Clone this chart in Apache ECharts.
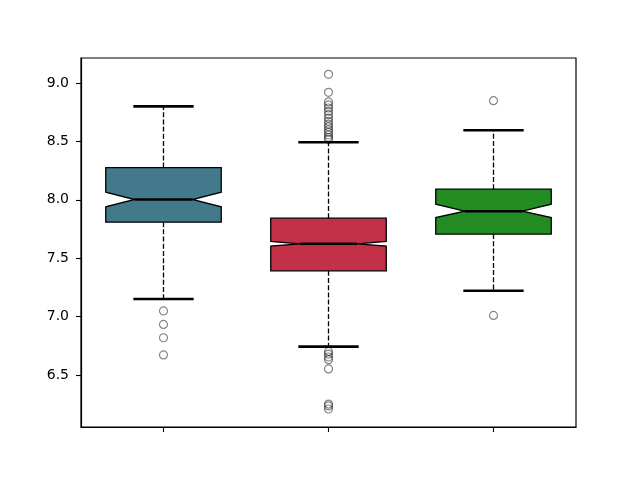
<!DOCTYPE html>
<html>
<head>
<meta charset="utf-8">
<script src="https://cdn.jsdelivr.net/npm/echarts@6/dist/echarts.min.js"></script>
<style>html,body{margin:0;padding:0;background:#fff}#c{width:640px;height:480px}</style>
</head>
<body>
<div id="c"></div>
<script>
// ---- data ----
const categories = ['1', '2', '3'];
const whiskerLow  = [7.151, 6.744, 7.222];
const q1          = [7.809, 7.393, 7.707];
const notchLow    = [7.940, 7.604, 7.849];
const median      = [8.003, 7.624, 7.903];
const notchHigh   = [8.066, 7.644, 7.963];
const q3          = [8.276, 7.843, 8.091];
const whiskerHigh = [8.800, 8.493, 8.596];
const outliers1 = [7.049, 6.934, 6.820, 6.673];
const outliers2 = [9.074, 8.920, 8.838, 8.812, 8.786, 8.758, 8.730, 8.700, 8.672, 8.648, 8.625, 8.600, 8.578, 8.555, 8.535, 8.518,
                   6.703, 6.680, 6.655, 6.632, 6.553, 6.252, 6.236, 6.210];
const outliers3 = [8.849, 7.011];
const boxColors = ['#427a8b', '#c33149', '#228b22'];
const yTicks = [6.5, 7.0, 7.5, 8.0, 8.5, 9.0];

const boxData = categories.map((c, i) => [i, whiskerLow[i], q1[i], notchLow[i], median[i], notchHigh[i], q3[i], whiskerHigh[i]]);
const outlierData = [];
[outliers1, outliers2, outliers3].forEach((arr, i) => arr.forEach(v => outlierData.push([i, v])));

const chart = echarts.init(document.getElementById('c'), null, {renderer: 'canvas'});

function renderBox(params, api) {
  const idx = api.value(0);
  const band = api.size([1, 0])[0];
  const hw = band * 0.35;   // half box width (width 0.7)
  const cw = hw * 0.5;      // half cap width
  const P = k => api.coord([idx, api.value(k)]);
  const pWl = P(1), pQ1 = P(2), pNl = P(3), pMed = P(4), pNh = P(5), pQ3 = P(6), pWh = P(7);
  const x = pMed[0];
  const fill = boxColors[idx];
  const dash = {stroke: '#000', lineWidth: 1.3, lineDash: [5, 2.2]};
  const cap = {stroke: '#000', lineWidth: 2.6, lineCap: 'butt'};
  return {
    type: 'group',
    children: [
      {type: 'line', shape: {x1: x, y1: pQ1[1], x2: x, y2: pWl[1]}, style: dash},
      {type: 'line', shape: {x1: x, y1: pQ3[1], x2: x, y2: pWh[1]}, style: dash},
      {type: 'line', shape: {x1: x - cw - 1.3, y1: pWl[1], x2: x + cw + 1.3, y2: pWl[1]}, style: cap},
      {type: 'line', shape: {x1: x - cw - 1.3, y1: pWh[1], x2: x + cw + 1.3, y2: pWh[1]}, style: cap},
      {type: 'polygon', shape: {points: [
        [x - hw, pQ1[1]], [x - hw, pNl[1]], [x - hw / 2, pMed[1]], [x - hw, pNh[1]], [x - hw, pQ3[1]],
        [x + hw, pQ3[1]], [x + hw, pNh[1]], [x + hw / 2, pMed[1]], [x + hw, pNl[1]], [x + hw, pQ1[1]]
      ]}, style: {fill: fill, stroke: '#000', lineWidth: 1.3, lineJoin: 'miter'}},
      {type: 'line', shape: {x1: x - hw / 2, y1: pMed[1], x2: x + hw / 2, y2: pMed[1]}, style: {stroke: '#000', lineWidth: 2.6}}
    ]
  };
}

chart.setOption({
  animation: false,
  backgroundColor: '#fff',
  grid: {left: 81, right: 64, top: 58, bottom: 53, show: true, borderColor: '#000', borderWidth: 1.2, backgroundColor: 'transparent'},
  xAxis: {
    type: 'category', data: categories, boundaryGap: true,
    axisLine: {show: true, lineStyle: {color: '#000', width: 1.2}},
    axisTick: {show: true, alignWithLabel: true, length: 5, lineStyle: {color: '#000', width: 1.1}},
    axisLabel: {show: false},
    splitLine: {show: false}
  },
  yAxis: {
    type: 'value', min: 6.056, max: 9.214,
    axisLine: {show: true, lineStyle: {color: '#000', width: 1.2}},
    axisTick: {show: true, length: 5, customValues: yTicks, lineStyle: {color: '#000', width: 1.1}},
    axisLabel: {show: true, customValues: yTicks, margin: 12, color: '#000', fontSize: 14,
      fontFamily: 'DejaVu Sans', formatter: v => v.toFixed(1)},
    splitLine: {show: false}
  },
  series: [
    {type: 'custom', renderItem: renderBox, data: boxData, encode: {x: 0, y: [1, 7]}, silent: true, z: 2},
    {type: 'scatter', data: outlierData, symbol: 'circle', symbolSize: 8, silent: true, z: 3,
      itemStyle: {color: 'rgba(0,0,0,0)', borderColor: 'rgba(0,0,0,0.6)', borderWidth: 1.2}}
  ]
});
</script>
</body>
</html>
